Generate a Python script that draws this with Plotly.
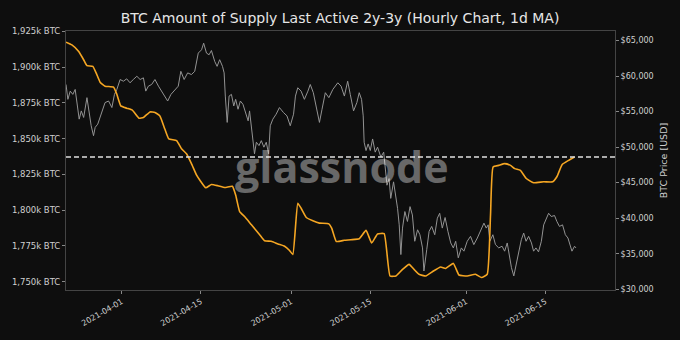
import plotly.graph_objects as go

# ---------------- data ----------------
supply_time = [
    "2021-03-22 03:00", "2021-03-23 04:00", "2021-03-24 09:00", "2021-03-25 06:00", "2021-03-25 20:00",
    "2021-03-26 21:00", "2021-03-27 14:00", "2021-03-28 04:00", "2021-03-29 01:00", "2021-03-30 13:00",
    "2021-03-31 03:00", "2021-03-31 20:00", "2021-04-01 21:00", "2021-04-02 21:00", "2021-04-04 01:00",
    "2021-04-04 20:00", "2021-04-06 00:00", "2021-04-06 21:00", "2021-04-07 18:00", "2021-04-08 15:00",
    "2021-04-09 08:00", "2021-04-10 17:00", "2021-04-11 14:00", "2021-04-12 11:00", "2021-04-13 08:00",
    "2021-04-14 06:00", "2021-04-14 20:00", "2021-04-15 21:00", "2021-04-16 21:00", "2021-04-18 01:00",
    "2021-04-19 06:00", "2021-04-20 14:00", "2021-04-21 04:00", "2021-04-21 21:00", "2021-04-22 18:00",
    "2021-04-23 23:00", "2021-04-25 10:00", "2021-04-26 07:00", "2021-04-27 11:00", "2021-04-28 16:00",
    "2021-04-29 20:00", "2021-04-30 17:00", "2021-05-01 07:00", "2021-05-02 04:00", "2021-05-02 18:00",
    "2021-05-03 16:00", "2021-05-04 20:00", "2021-05-06 00:00", "2021-05-07 16:00", "2021-05-08 04:00",
    "2021-05-09 00:00", "2021-05-10 10:00", "2021-05-11 14:00", "2021-05-13 01:00", "2021-05-14 06:00",
    "2021-05-15 06:00", "2021-05-16 07:00", "2021-05-17 11:00", "2021-05-18 12:00", "2021-05-19 13:00",
    "2021-05-20 17:00", "2021-05-21 21:00", "2021-05-22 18:00", "2021-05-23 15:00", "2021-05-24 20:00",
    "2021-05-26 00:00", "2021-05-27 11:00", "2021-05-28 08:00", "2021-05-29 17:00", "2021-05-30 17:00",
    "2021-06-01 04:00", "2021-06-02 15:00", "2021-06-03 17:00", "2021-06-04 17:00", "2021-06-05 07:00",
    "2021-06-05 18:00", "2021-06-06 18:00", "2021-06-07 19:00", "2021-06-08 20:00", "2021-06-09 14:00",
    "2021-06-10 14:00", "2021-06-11 15:00", "2021-06-12 22:00", "2021-06-14 17:00", "2021-06-16 07:00",
    "2021-06-17 01:00", "2021-06-17 23:00", "2021-06-19 03:00", "2021-06-20 04:00",
]
supply_k = [
    1917.5, 1915.6, 1911.0, 1905.2, 1901.1,
    1900.6, 1894.8, 1889.5, 1886.7, 1886.0,
    1881.0, 1872.9, 1871.3, 1869.9, 1864.3,
    1864.8, 1868.7, 1868.3, 1865.9, 1856.7,
    1849.8, 1848.6, 1842.9, 1839.4, 1832.5,
    1824.4, 1820.9, 1815.6, 1817.9, 1817.0,
    1815.8, 1816.7, 1810.5, 1799.0, 1795.5,
    1789.7, 1782.8, 1778.6, 1778.2, 1776.3,
    1774.7, 1771.7, 1768.9, 1804.7, 1801.3,
    1794.8, 1792.5, 1790.9, 1790.4, 1787.4,
    1778.0, 1778.9, 1779.3, 1780.0, 1785.8,
    1777.0, 1783.3, 1783.5, 1753.9, 1753.9,
    1758.5, 1762.0, 1758.5, 1755.1, 1753.9,
    1756.9, 1760.2, 1759.2, 1762.7, 1754.6,
    1753.9, 1755.1, 1752.8, 1755.1, 1796.6,
    1830.2, 1831.3, 1832.5, 1831.3, 1829.0,
    1827.8, 1822.1, 1819.1, 1819.8, 1819.8,
    1823.3, 1831.8, 1834.8, 1837.1,
]

price_time = [
    "2021-03-22 03:00", "2021-03-22 11:00", "2021-03-22 21:00", "2021-03-23 08:00", "2021-03-23 18:00",
    "2021-03-24 01:00", "2021-03-24 11:00", "2021-03-24 20:00", "2021-03-25 06:00", "2021-03-25 20:00",
    "2021-03-26 06:00", "2021-03-26 14:00", "2021-03-27 00:00", "2021-03-27 07:00", "2021-03-27 18:00",
    "2021-03-28 04:00", "2021-03-28 14:00", "2021-03-29 01:00", "2021-03-29 16:00", "2021-03-30 06:00",
    "2021-03-30 17:00", "2021-03-31 03:00", "2021-03-31 17:00", "2021-04-01 07:00", "2021-04-01 21:00",
    "2021-04-02 11:00", "2021-04-03 01:00", "2021-04-03 16:00", "2021-04-04 06:00", "2021-04-04 20:00",
    "2021-04-05 06:00", "2021-04-05 17:00", "2021-04-06 07:00", "2021-04-06 21:00", "2021-04-07 12:00",
    "2021-04-08 01:00", "2021-04-08 15:00", "2021-04-09 03:00", "2021-04-09 17:00", "2021-04-10 10:00",
    "2021-04-11 00:00", "2021-04-11 11:00", "2021-04-12 01:00", "2021-04-12 16:00", "2021-04-13 08:00",
    "2021-04-13 22:00", "2021-04-14 13:00", "2021-04-15 03:00", "2021-04-15 12:00", "2021-04-16 00:00",
    "2021-04-16 11:00", "2021-04-16 21:00", "2021-04-17 11:00", "2021-04-17 21:00", "2021-04-18 08:00",
    "2021-04-18 20:00", "2021-04-19 03:00", "2021-04-19 08:00", "2021-04-19 16:00", "2021-04-20 00:00",
    "2021-04-20 10:00", "2021-04-20 20:00", "2021-04-21 04:00", "2021-04-21 14:00", "2021-04-22 00:00",
    "2021-04-22 11:00", "2021-04-22 22:00", "2021-04-23 09:00", "2021-04-23 15:00", "2021-04-23 23:00",
    "2021-04-24 06:00", "2021-04-24 12:00", "2021-04-24 20:00", "2021-04-25 07:00", "2021-04-25 17:00",
    "2021-04-26 04:00", "2021-04-26 14:00", "2021-04-27 00:00", "2021-04-27 07:00", "2021-04-27 18:00",
    "2021-04-28 08:00", "2021-04-28 22:00", "2021-04-29 15:00", "2021-04-30 06:00", "2021-04-30 20:00",
    "2021-05-01 10:00", "2021-05-01 18:00", "2021-05-02 04:00", "2021-05-02 18:00", "2021-05-03 08:00",
    "2021-05-03 23:00", "2021-05-04 09:00", "2021-05-04 22:00", "2021-05-05 10:00", "2021-05-06 00:00",
    "2021-05-06 11:00", "2021-05-07 01:00", "2021-05-07 16:00", "2021-05-08 09:00", "2021-05-09 06:00",
    "2021-05-09 20:00", "2021-05-10 10:00", "2021-05-11 00:00", "2021-05-11 11:00", "2021-05-12 01:00",
    "2021-05-12 15:00", "2021-05-13 01:00", "2021-05-13 11:00", "2021-05-13 18:00", "2021-05-13 22:00",
    "2021-05-14 06:00", "2021-05-14 15:00", "2021-05-15 00:00", "2021-05-15 10:00", "2021-05-15 21:00",
    "2021-05-16 07:00", "2021-05-16 21:00", "2021-05-17 09:00", "2021-05-17 15:00", "2021-05-17 23:00",
    "2021-05-18 08:00", "2021-05-18 15:00", "2021-05-19 03:00", "2021-05-19 13:00", "2021-05-19 20:00",
    "2021-05-20 03:00", "2021-05-20 10:00", "2021-05-20 17:00", "2021-05-21 03:00", "2021-05-21 14:00",
    "2021-05-22 01:00", "2021-05-22 11:00", "2021-05-22 21:00", "2021-05-23 09:00", "2021-05-23 19:00",
    "2021-05-24 06:00", "2021-05-24 12:00", "2021-05-25 00:00", "2021-05-25 10:00", "2021-05-25 21:00",
    "2021-05-26 10:00", "2021-05-26 21:00", "2021-05-27 07:00", "2021-05-27 18:00", "2021-05-28 06:00",
    "2021-05-28 18:00", "2021-05-29 06:00", "2021-05-29 17:00", "2021-05-30 03:00", "2021-05-30 14:00",
    "2021-05-31 03:00", "2021-05-31 14:00", "2021-06-01 04:00", "2021-06-01 18:00", "2021-06-02 08:00",
    "2021-06-02 23:00", "2021-06-03 13:00", "2021-06-04 03:00", "2021-06-04 13:00", "2021-06-04 21:00",
    "2021-06-05 04:00", "2021-06-05 17:00", "2021-06-06 04:00", "2021-06-06 18:00", "2021-06-07 08:00",
    "2021-06-07 19:00", "2021-06-08 06:00", "2021-06-08 15:00", "2021-06-09 00:00", "2021-06-09 10:00",
    "2021-06-09 20:00", "2021-06-10 07:00", "2021-06-10 18:00", "2021-06-11 04:00", "2021-06-11 14:00",
    "2021-06-12 01:00", "2021-06-12 13:00", "2021-06-12 22:00", "2021-06-13 08:00", "2021-06-13 19:00",
    "2021-06-14 07:00", "2021-06-14 17:00", "2021-06-15 04:00", "2021-06-15 14:00", "2021-06-16 01:00",
    "2021-06-16 15:00", "2021-06-17 01:00", "2021-06-17 12:00", "2021-06-18 01:00", "2021-06-18 13:00",
    "2021-06-19 00:00", "2021-06-19 10:00", "2021-06-19 17:00", "2021-06-20 04:00", "2021-06-20 10:00",
]
price_usd = [
    58814, 56723, 57880, 57420, 58117,
    56486, 53935, 55092, 54172, 56960,
    54632, 53001, 51607, 52778, 53238,
    54172, 55329, 56263, 56486, 55566,
    57420, 58117, 59511, 59274, 59609,
    59051, 59511, 59971, 59511, 59748,
    57880, 58577, 58814, 59511, 58577,
    57880, 56960, 56486, 57420, 58117,
    58577, 60668, 59511, 60445, 60208,
    60668, 63233, 63693, 64627, 63233,
    62996, 63595, 62062, 61365, 62299,
    61365, 60445, 57183, 53475, 57183,
    57420, 55789, 56723, 55329, 56486,
    56026, 54869, 53698, 55092, 53001,
    51147, 49056, 50687, 50213, 50910,
    49990, 50687, 49056, 53001, 53935,
    54632, 55566, 54869, 54395, 53001,
    54632, 57183, 58354, 57880, 56723,
    57880, 58814, 57657, 55789, 53475,
    55329, 57657, 56960, 58117, 59051,
    58577, 57183, 59274, 57420, 55092,
    56263, 57657, 56723, 54395, 50687,
    49516, 50450, 49516, 51147, 49293,
    49990, 48596, 49293, 46965, 44637,
    45571, 42783, 45111, 43020, 41389,
    39061, 34879, 38601, 40929, 39535,
    41626, 40455, 36747, 38364, 37667,
    35813, 32565, 35576, 38141, 38838,
    37667, 39995, 40692, 38601, 40093,
    38141, 36510, 35813, 36747, 34419,
    35813, 35353, 36747, 37444, 36273,
    37207, 38141, 39298, 38601, 39061,
    36747, 37667, 36273, 35813, 36050,
    35353, 36510, 34419, 33025, 31868,
    33485, 35576, 36970, 37904, 36747,
    37444, 36510, 35353, 35813, 35255,
    36747, 39061, 39995, 40692, 40232,
    40371, 39535, 38838, 39061, 37667,
    37207, 36050, 35353, 36050, 35813,
]

reference_level_k = 1837.1

supply_ticks = [1750, 1775, 1800, 1825, 1850, 1875, 1900, 1925]
supply_tick_text = [f"{v:,}k BTC" for v in supply_ticks]
price_ticks = [30000, 35000, 40000, 45000, 50000, 55000, 60000, 65000]
date_ticks = ["2021-04-01", "2021-04-15", "2021-05-01", "2021-05-15", "2021-06-01", "2021-06-15"]

title_text = "BTC Amount of Supply Last Active 2y-3y (Hourly Chart, 1d MA)"

# ---------------- figure ----------------
BG = "#0e0e0e"
FONT = "DejaVu Sans"
TXT = "#d0d0d0"

fig = go.Figure()

fig.add_trace(go.Scatter(
    x=price_time, y=price_usd, yaxis="y", mode="lines",
    line=dict(color="#939393", width=1), name="BTC Price", showlegend=False,
))
fig.add_trace(go.Scatter(
    x=supply_time, y=supply_k, yaxis="y2", mode="lines",
    line=dict(color="#f5a623", width=1.6, shape="spline", smoothing=0.4),
    name="Supply 2y-3y", showlegend=False,
))

fig.add_shape(
    type="line", xref="paper", x0=0, x1=1, yref="y2",
    y0=reference_level_k, y1=reference_level_k,
    line=dict(color="#e0e0e0", width=1.5, dash="5px,3px"),
)

fig.add_annotation(
    text="glassnode", xref="paper", yref="paper", x=0.502, y=0.475,
    showarrow=False,
    font=dict(family="Open Sans", size=43, weight=700, color="rgba(255,255,255,0.38)"),
)

fig.update_layout(
    width=680, height=340,
    margin=dict(l=64, r=65, t=31, b=47),
    paper_bgcolor=BG, plot_bgcolor=BG,
    font=dict(family=FONT, color=TXT),
    title=dict(text=title_text, x=0.5, xanchor="center", y=1 - 18 / 340, yanchor="middle",
               font=dict(family=FONT, size=14, color="#e6e6e6")),
    xaxis=dict(
        type="date", range=["2021-03-22 03:00", "2021-06-27 08:00"],
        tickvals=date_ticks, ticktext=date_ticks, tickangle=-30,
        tickfont=dict(size=8, color=TXT), showgrid=False, zeroline=False,
        showline=True, linecolor="#444444", linewidth=1, mirror=True,
        ticks="outside", ticklen=3, tickcolor="#888888",
    ),
    yaxis=dict(
        side="right", range=[29890, 66340], tickvals=price_ticks, tickformat="$,.0f",
        tickfont=dict(size=8, color=TXT), showgrid=False, zeroline=False,
        showline=True, linecolor="#444444", linewidth=1,
        ticks="outside", ticklen=3, tickcolor="#888888",
        title=dict(text="BTC Price [USD]", font=dict(size=9.5, color=TXT), standoff=7),
    ),
    yaxis2=dict(
        side="left", overlaying="y", range=[1744.1, 1925.3],
        tickvals=supply_ticks, ticktext=supply_tick_text,
        tickfont=dict(size=8.5, color=TXT), showgrid=False, zeroline=False,
        showline=True, linecolor="#444444", linewidth=1,
        ticks="outside", ticklen=3, tickcolor="#888888",
    ),
)

fig.write_html("out.html")
